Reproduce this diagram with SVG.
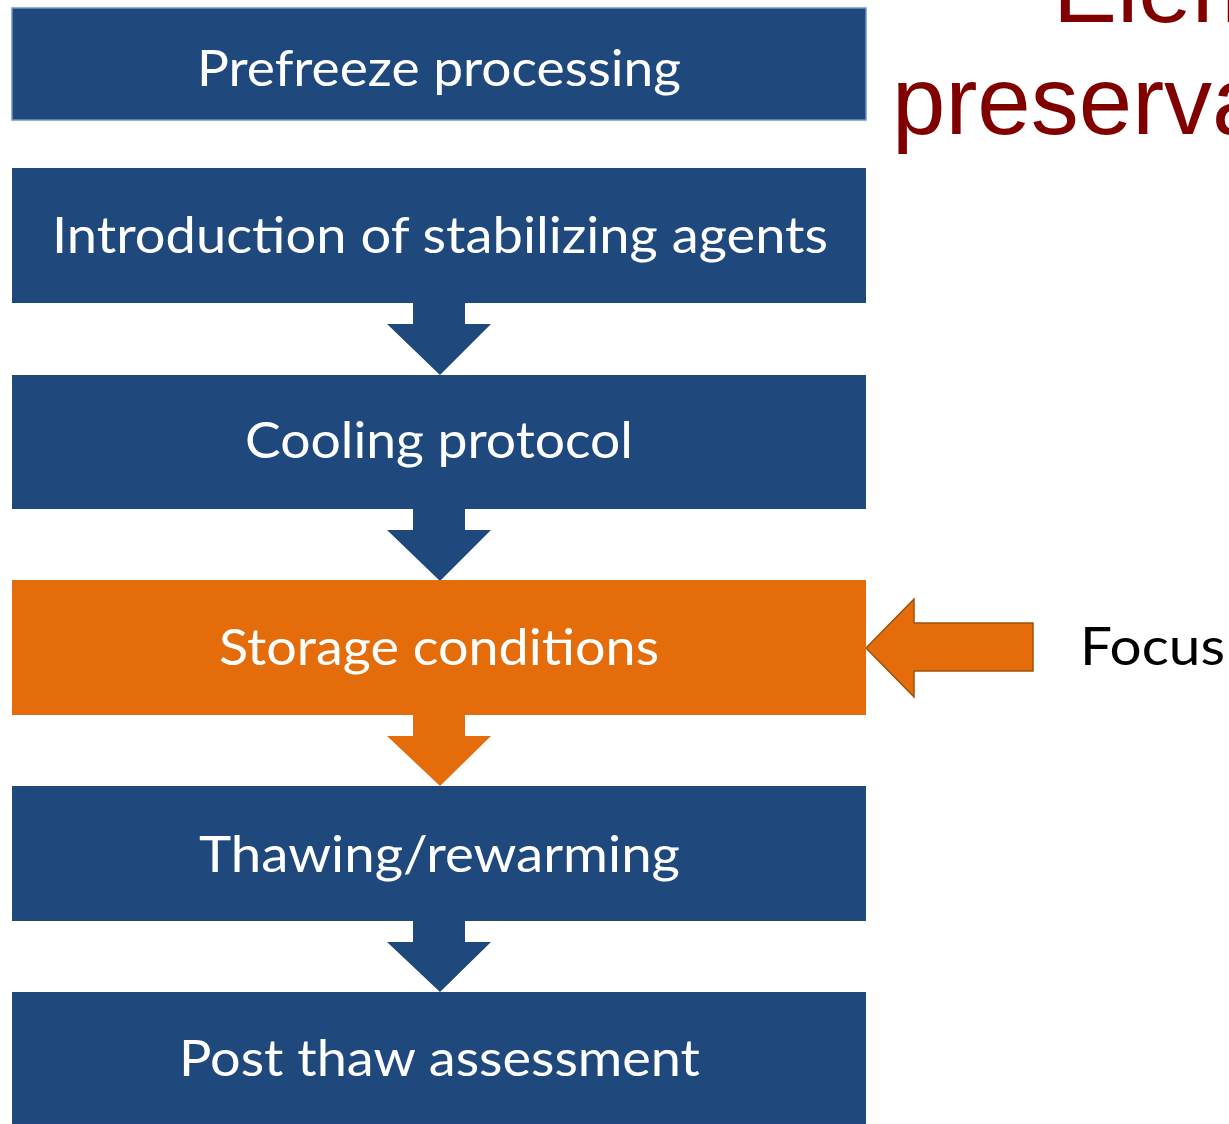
<svg xmlns="http://www.w3.org/2000/svg" width="1229" height="1124" viewBox="0 0 1229 1124">
<style>
.box{fill:#1f497d}
.obox{fill:#e46c0a}
.lbl{font-family:Lato,"Open Sans",sans-serif;font-size:50px;fill:#ffffff;text-anchor:middle}
.title{font-family:"Liberation Sans",Arial,sans-serif;font-size:96px;fill:#800000}
.dn{fill:#1f497d}
.odn{fill:#e46c0a}
</style>
<rect width="1229" height="1124" fill="#ffffff"/>
<g id="title">
<text class="title" x="1053" y="22">Elem</text>
<text class="title" x="892" y="134">preserva</text>
</g>
<g id="connectors">
<polygon class="dn" points="413,303 465,303 465,324 491,324 440,375 387,324 413,324"/>
<polygon class="dn" points="413,509 465,509 465,530 491,530 440,581 387,530 413,530"/>
<polygon class="odn" points="413,715 465,715 465,736 491,736 440,786 387,736 413,736"/>
<polygon class="dn" points="413,921 465,921 465,942 491,942 440,992 387,942 413,942"/>
<polygon fill="#e46c0a" stroke="#a0500a" stroke-width="1.5" points="866,648 914,599 914,623 1033,623 1033,671 914,671 914,697"/>
</g>
<g id="n1">
<rect class="box" x="12" y="8" width="854" height="112" stroke="#6f95c8" stroke-width="1.5"/>
<text class="lbl" x="439" y="86" textLength="484" lengthAdjust="spacingAndGlyphs">Prefreeze processing</text>
</g>
<g id="n2">
<rect class="box" x="12" y="168" width="854" height="135"/>
<text class="lbl" x="440" y="253" textLength="776" lengthAdjust="spacingAndGlyphs">Introduction of stabilizing agents</text>
</g>
<g id="n3">
<rect class="box" x="12" y="375" width="854" height="134"/>
<text class="lbl" x="439" y="458" textLength="388" lengthAdjust="spacingAndGlyphs">Cooling protocol</text>
</g>
<g id="n4">
<rect class="obox" x="12" y="580" width="854" height="135"/>
<text class="lbl" x="439" y="665" textLength="440" lengthAdjust="spacingAndGlyphs">Storage conditions</text>
</g>
<g id="n5">
<rect class="box" x="12" y="786" width="854" height="135"/>
<text class="lbl" x="439.500" y="872" textLength="481" lengthAdjust="spacingAndGlyphs">Thawing/rewarming</text>
</g>
<g id="n6">
<rect class="box" x="12" y="992" width="854" height="132"/>
<text class="lbl" x="439.500" y="1076" textLength="521" lengthAdjust="spacingAndGlyphs">Post thaw assessment</text>
</g>
<g id="focus">
<text x="1080" y="665" font-family="Lato,'Open Sans',sans-serif" font-size="52" fill="#000000" textLength="145" lengthAdjust="spacingAndGlyphs">Focus</text>
</g>
</svg>
